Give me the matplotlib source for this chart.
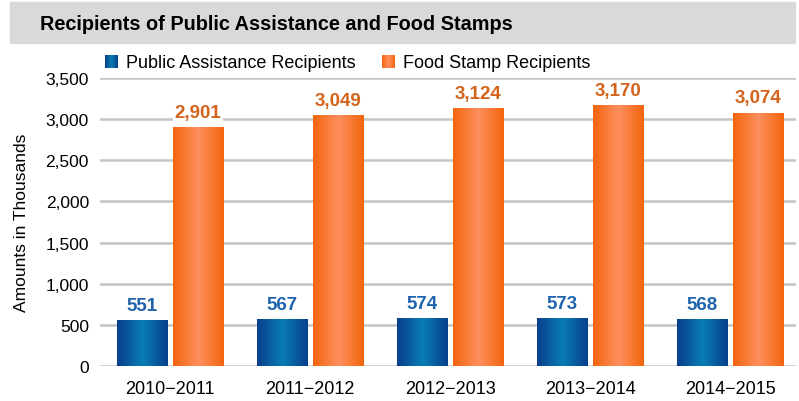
import numpy as np
import matplotlib.pyplot as plt
from matplotlib.colors import LinearSegmentedColormap
from matplotlib.patches import Rectangle

plt.rcParams['font.family'] = ['Liberation Sans', 'DejaVu Sans']

years = ['2010\u22122011', '2011\u22122012', '2012\u22122013', '2013\u22122014', '2014\u22122015']
public_assistance = [551, 567, 574, 573, 568]
food_stamps = [2901, 3049, 3124, 3170, 3074]

blue_cmap = LinearSegmentedColormap.from_list('blue', ['#083f8c', '#0a7db3', '#083f8c'])
orange_cmap = LinearSegmentedColormap.from_list('orange', ['#f2650c', '#ff8f5e', '#f2650c'])

fig = plt.figure(figsize=(7.99, 4.02), dpi=100)

# gray title band
fig.patches.append(Rectangle((10 / 799, 1 - 44 / 402), 785 / 799, 41 / 402,
                             transform=fig.transFigure, color='#d9d9d9', zorder=0))
fig.text(40 / 799, 1 - 24 / 402, 'Recipients of Public Assistance and Food Stamps',
         fontsize=14.3, fontweight='bold', va='center', ha='left')

ax = fig.add_axes([100 / 799, 35 / 402, 696 / 799, 288 / 402])
x = np.arange(len(years))
width = 0.364
offset = 0.2

ax.set_xlim(-0.5, 4.47)
ax.set_ylim(0, 3500)
ax.set_yticks(range(0, 3501, 500))
ax.set_yticklabels([f'{v:,}' for v in range(0, 3501, 500)])
ax.yaxis.grid(True, color='#c4c4c4', linewidth=1.8)
ax.set_axisbelow(True)
for s in ax.spines.values():
    s.set_visible(False)
ax.tick_params(length=0, labelsize=12.5, pad=8)
ax.set_xticks(x)
ax.set_xticklabels(years)
ax.tick_params(axis='x', pad=10, labelsize=13)
ax.set_ylabel('Amounts in Thousands', fontsize=12.5, labelpad=12)

grad = np.linspace(0, 1, 256).reshape(1, -1)


def gradient_bars(xs, vals, cmap, label_color):
    bars = ax.bar(xs, vals, width, color='none', zorder=2)
    for b, v in zip(bars, vals):
        x0, w, h = b.get_x(), b.get_width(), b.get_height()
        ax.imshow(grad, cmap=cmap, aspect='auto', extent=(x0, x0 + w, 0, h), zorder=2)
        ax.text(x0 + w / 2, h + 80, f'{v:,}', ha='center', va='bottom', fontsize=13.5,
                fontweight='bold', color=label_color, zorder=3,
                bbox=dict(facecolor='white', edgecolor='none', pad=1.5))
    return bars


gradient_bars(x - offset, public_assistance, blue_cmap, '#1f63ad')
gradient_bars(x + offset, food_stamps, orange_cmap, '#d4631c')
ax.set_xlim(-0.5, 4.47)
ax.set_ylim(0, 3500)

# legend with gradient squares
for lx, cmap, text in [(105, blue_cmap, 'Public Assistance Recipients'),
                       (382, orange_cmap, 'Food Stamp Recipients')]:
    lax = fig.add_axes([lx / 799, 1 - 69 / 402, 13 / 799, 13 / 402])
    lax.imshow(grad, cmap=cmap, aspect='auto')
    lax.axis('off')
    fig.text((lx + 21) / 799, 1 - 63 / 402, text, fontsize=13, va='center', ha='left')

fig.savefig('out.png', dpi=100)
